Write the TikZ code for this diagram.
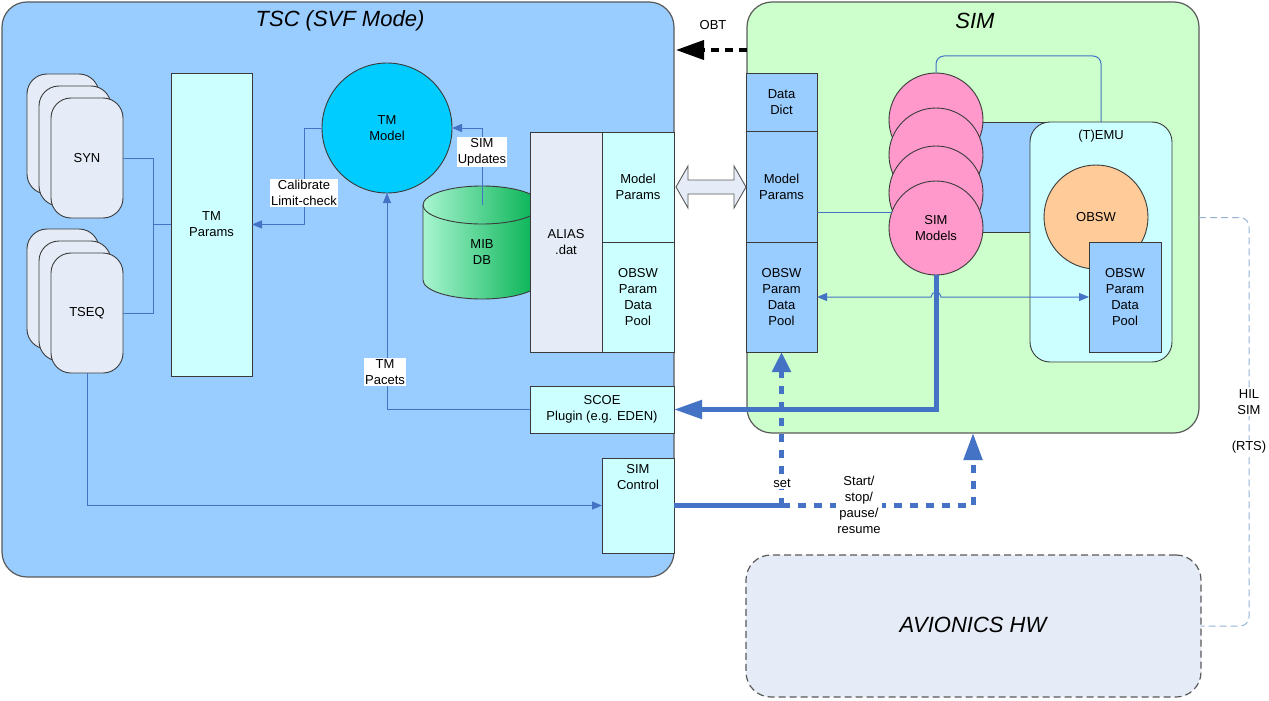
\documentclass[tikz,border=0pt]{standalone}
\usepackage{fontspec}
\setmainfont{Liberation Sans}
\usetikzlibrary{arrows.meta}

\definecolor{tscblue}{HTML}{99CCFF}
\definecolor{simgreen}{HTML}{CCFFCC}
\definecolor{palecyan}{HTML}{CCFFFF}
\definecolor{palegray}{HTML}{E6ECF7}
\definecolor{tmcyan}{HTML}{00CCFF}
\definecolor{simpink}{HTML}{FF99CC}
\definecolor{obsworange}{HTML}{FFCC99}
\definecolor{linkblue}{HTML}{4472C4}
\definecolor{edgegray}{HTML}{3A3A3A}
\definecolor{framegray}{HTML}{5A5A5A}
\definecolor{hilblue}{HTML}{95B3D7}
\definecolor{mibleft}{HTML}{A8F5D0}
\definecolor{mibright}{HTML}{00B050}

\newcommand\lblfont{\fontsize{13}{16}\selectfont}
\newcommand\ttlfont{\fontsize{22}{26}\selectfont\itshape}

\tikzset{
  box/.style={draw=edgegray, line width=0.9pt, inner sep=0pt, outer sep=0pt,
    anchor=north west, align=center, font=\lblfont},
  frame/.style={box, draw=framegray, line width=1.2pt},
  stackbox/.style={box, fill=palegray, rounded corners=20pt,
    minimum width=72pt, minimum height=120pt},
  disc/.style={circle, draw=edgegray, line width=0.9pt, inner sep=0pt,
    outer sep=0pt, align=center, font=\lblfont},
  tag/.style={fill=white, inner sep=1pt, align=center, font=\lblfont},
  plain/.style={inner sep=0pt, align=center, font=\lblfont},
  thinlink/.style={draw=linkblue, line width=1pt},
  thintip/.style={-{Triangle[length=10pt,width=8pt]}},
  bothtips/.style={{Triangle[length=10pt,width=8pt]}-{Triangle[length=10pt,width=8pt]}},
  heavy/.style={draw=linkblue, line width=5pt},
  heavydash/.style={heavy, dash pattern=on 8pt off 8pt},
  hil/.style={draw=hilblue, line width=1pt, dash pattern=on 7pt off 4pt}
}

\begin{document}
\begin{tikzpicture}[x=1pt, y=-1pt]
\useasboundingbox[fill=white] (0,0) rectangle (1269,701);

% ---- outer frames ----
\node[frame, fill=tscblue, rounded corners=25pt, minimum width=672pt, minimum height=575pt] (tsc) at (2,2) {};
\node[frame, fill=simgreen, rounded corners=25pt, minimum width=452pt, minimum height=431pt] (simbox) at (747,2) {};
\node[frame, fill=palegray, rounded corners=25pt, dash pattern=on 7pt off 4pt, minimum width=455pt, minimum height=142pt] (avionics) at (746,555) {};

\node[font=\ttlfont] (tsctitle) at (340,21) {TSC (SVF Mode)};
\node[font=\ttlfont] (simtitle) at (975,21) {SIM};
\node[font=\ttlfont] (avtitle) at (973,625) {AVIONICS HW};

% ---- TSC side ----
\node[stackbox] (synC) at (27,74) {};
\node[stackbox] (synB) at (39,86) {};
\node[stackbox] (syn) at (51,98) {SYN};
\node[stackbox] (tseqC) at (27,229) {};
\node[stackbox] (tseqB) at (39,241) {};
\node[stackbox] (tseq) at (51,253) {TSEQ};

\node[box, fill=palecyan, minimum width=81pt, minimum height=303pt] (tmparams) at (171,73) {TM\\Params};
\node[disc, fill=tmcyan, minimum size=130pt] (tmmodel) at (387,128) {TM\\Model};

% MIB database cylinder
\shade[left color=mibleft, right color=mibright, draw=edgegray, line width=0.9pt]
  (423,205) arc[start angle=180, end angle=360, x radius=59, y radius=19]
  -- (541,280) arc[start angle=0, end angle=180, x radius=59, y radius=19] -- cycle;
\draw[draw=edgegray, line width=0.9pt]
  (423,205) arc[start angle=180, end angle=0, x radius=59, y radius=19];
\node[plain] (mib) at (482,252) {MIB\\DB};
\coordinate (mibtop) at (482,205);

\node[box, fill=palegray, minimum width=72pt, minimum height=220pt] (alias) at (530,132) {ALIAS\\.dat};
\node[box, fill=palecyan, minimum width=72pt, minimum height=110pt] (tscmp) at (602,132) {Model\\Params};
\node[box, fill=palecyan, minimum width=72pt, minimum height=110pt] (tscpool) at (602,242) {OBSW\\Param\\Data\\Pool};

\node[box, fill=palecyan, minimum width=144pt, minimum height=47pt] (scoe) at (530,386) {SCOE\\Plugin (e.g. EDEN)};
\node[box, fill=palecyan, minimum width=72pt, minimum height=95pt] (simctl) at (602,458) {};
\node[plain, anchor=north] (simctlLbl) at (638,464) {SIM\\Control};

% ---- SIM side ----
\node[box, fill=tscblue, minimum width=71pt, minimum height=58pt] (datadict) at (746,73) {Data\\Dict};
\node[box, fill=tscblue, minimum width=71pt, minimum height=111pt] (simmp) at (746,131) {Model\\Params};
\node[box, fill=tscblue, minimum width=71pt, minimum height=110pt] (simpool) at (746,242) {OBSW\\Param\\Data\\Pool};

\node[box, fill=tscblue, minimum width=110pt, minimum height=110pt] (backrect) at (936,122) {};
\node[disc, fill=simpink, minimum size=94pt] (simc1) at (936,120) {};
\node[disc, fill=simpink, minimum size=94pt] (simc2) at (936,155) {};
\node[disc, fill=simpink, minimum size=94pt] (simc3) at (936,193) {};
\node[disc, fill=simpink, minimum size=94pt] (simmodels) at (936,228) {SIM\\Models};

\node[box, fill=palecyan, rounded corners=20pt, minimum width=142pt, minimum height=240pt] (temu) at (1030,122) {};
\node[plain] (temuLbl) at (1101,136) {(T)EMU};
\node[disc, fill=obsworange, minimum size=104pt] (obsw) at (1096,217) {OBSW};
\node[box, fill=tscblue, minimum width=72pt, minimum height=110pt] (temupool) at (1089,242) {OBSW\\Param\\Data\\Pool};

% ---- helper coordinates ----
\coordinate (joinX) at (153,0);
\coordinate (calX) at (304,0);
\coordinate (topY) at (0,56);
\coordinate (hilX) at (1249,0);
\coordinate (obtS) at (747,50);
\coordinate (obtE) at (676,50);

% ---- thin connectors ----
\draw[thinlink] (syn.east) -- (syn.east -| joinX) -- (tmparams.west -| joinX) -- (tmparams.west);
\draw[thinlink] (tseq.east) -- (tseq.east -| joinX) -- (tmparams.west -| joinX);
\draw[thinlink, thintip] (tmmodel.west) -- (tmmodel.west -| calX) -- (tmparams.east -| calX) -- (tmparams.east);
\draw[thinlink, thintip] (mibtop) -- (mibtop |- tmmodel.east) -- (tmmodel.east);
\draw[thinlink, thintip] (scoe.west) -- (scoe.west -| tmmodel.south) -- (tmmodel.south);
\draw[thinlink, thintip] (tseq.south) -- (tseq.south |- simctl.west) -- (simctl.west);

\draw[thinlink] (simmp.east |- simmodels.161) -- (simmodels.161);
\draw[thinlink, rounded corners=8pt] (simc1.north) -- (simc1.north |- topY) -- (temu.north |- topY) -- (temu.north);

% hollow two-way interface arrow
\draw[draw=framegray, fill=palegray, line width=0.9pt]
  (676,187) -- (688,166) -- (688,180) -- (734,180) -- (734,166) -- (746,187)
  -- (734,208) -- (734,194) -- (688,194) -- (688,208) -- cycle;

% OBT
\draw[line width=4pt, dash pattern=on 8pt off 6pt, -{Triangle[length=28pt,width=19pt]}] (obtS) -- (obtE);
\node[plain] (obtLbl) at (713,25) {OBT};

% heavy links
\draw[heavy, -{Triangle[length=28pt,width=18pt]}] (simmodels.south) -- (simmodels.south |- scoe.east) -- (scoe.east);
\draw[heavy] (simctl.east) -- (simpool.south |- simctl.east);
\draw[heavydash, -{Triangle[length=27pt,width=18pt]}] (simpool.south |- simctl.east) -- (simbox.south |- simctl.east) -- (simbox.south);
\draw[heavydash, -{Triangle[length=20pt,width=18pt]}] (simpool.south |- simctl.east) -- (simpool.south);

\draw[thinlink, bothtips] (simpool.east) -- (931,297) arc[start angle=180, end angle=360, radius=5] -- (temupool.west);

% HIL link
\draw[hil, rounded corners=9pt] (simbox.east) -- (simbox.east -| hilX) -- (avionics.east -| hilX) -- (avionics.east);

% ---- labels on links ----
\node[tag] (calLbl) at (304,193) {Calibrate\\Limit-check};
\node[tag] (updLbl) at (482,152) {SIM\\Updates};
\node[tag] (pacLbl) at (385,372) {TM\\Pacets};
\node[tag, inner sep=2pt] (setLbl) at (782,483) {set};
\node[tag] (ssLbl) at (859,505) {Start/\\stop/\\pause/\\resume};
\node[tag] (hilLbl) at (1249,402) {HIL\\SIM};
\node[tag] (rtsLbl) at (1249,447) {(RTS)};
\end{tikzpicture}
\end{document}
